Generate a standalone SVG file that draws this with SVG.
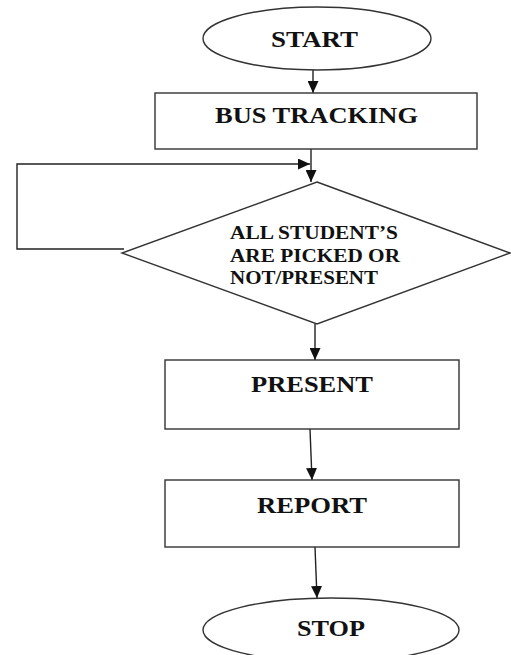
<svg xmlns="http://www.w3.org/2000/svg" width="511" height="655" viewBox="0 0 511 655">
<style>
.shape{fill:#fff;stroke:#333;stroke-width:1.4}
.conn{fill:none;stroke:#222;stroke-width:1.4}
.t{font-family:"Liberation Serif","Times New Roman",serif;font-weight:bold;fill:#111}
.big{font-size:23px}
.small{font-size:18px}
</style>
<defs>
<marker id="ah" viewBox="0 0 12 11" refX="12" refY="5.5" markerWidth="12" markerHeight="11" markerUnits="userSpaceOnUse" orient="auto">
<path d="M0,0 L12,5.5 L0,11 z" fill="#111"/>
</marker>
</defs>
<rect width="511" height="655" fill="#fff"/>
<g id="connectors">
<line class="conn" x1="313" y1="70" x2="313" y2="93" marker-end="url(#ah)"/>
<line class="conn" x1="311" y1="149" x2="311" y2="182" marker-end="url(#ah)"/>
<polyline class="conn" points="124,249 17,249 17,164 310,164" marker-end="url(#ah)"/>
<line class="conn" x1="315" y1="324" x2="315" y2="360" marker-end="url(#ah)"/>
<line class="conn" x1="310" y1="429" x2="312" y2="480" marker-end="url(#ah)"/>
<line class="conn" x1="315" y1="547" x2="317" y2="598" marker-end="url(#ah)"/>
</g>
<g id="start">
<ellipse class="shape" cx="317" cy="38.5" rx="114" ry="31.5"/>
<text class="t big" x="271" y="47" textLength="87" lengthAdjust="spacingAndGlyphs">START</text>
</g>
<g id="bus-tracking">
<rect class="shape" x="155" y="93" width="322" height="56"/>
<text class="t big" x="215" y="123" textLength="203" lengthAdjust="spacingAndGlyphs">BUS TRACKING</text>
</g>
<g id="decision">
<polygon class="shape" points="317,182 510,253 317,324 122,253"/>
<text class="t small" x="230" y="239" textLength="168" lengthAdjust="spacingAndGlyphs">ALL STUDENT’S</text>
<text class="t small" x="230" y="262" textLength="170" lengthAdjust="spacingAndGlyphs">ARE PICKED OR</text>
<text class="t small" x="230" y="284" textLength="148" lengthAdjust="spacingAndGlyphs">NOT/PRESENT</text>
</g>
<g id="present">
<rect class="shape" x="165" y="360" width="294" height="69"/>
<text class="t big" x="251" y="392" textLength="122" lengthAdjust="spacingAndGlyphs">PRESENT</text>
</g>
<g id="report">
<rect class="shape" x="165" y="480" width="294" height="67"/>
<text class="t big" x="257" y="513" textLength="110" lengthAdjust="spacingAndGlyphs">REPORT</text>
</g>
<g id="stop">
<ellipse class="shape" cx="331" cy="630" rx="128" ry="32"/>
<text class="t big" x="297" y="636" textLength="68" lengthAdjust="spacingAndGlyphs">STOP</text>
</g>
</svg>
